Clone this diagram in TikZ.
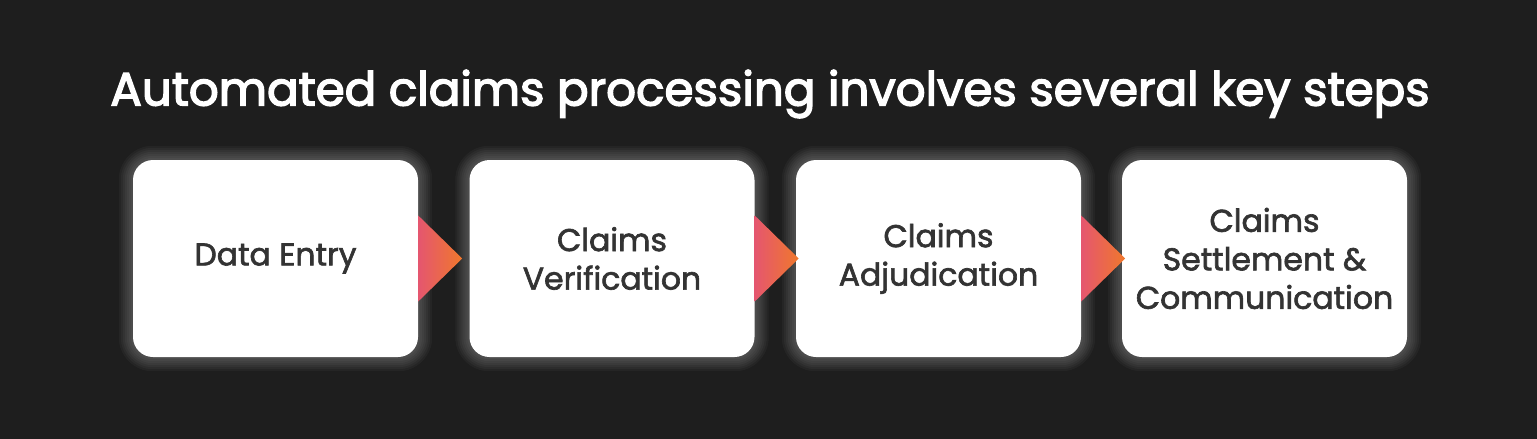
\documentclass[tikz,border=0pt]{standalone}
\usepackage{fontspec}
\setmainfont{Poppins}
\newfontfamily\titlefont{Poppins}[FakeBold=3]
\newfontfamily\boxfont{Poppins}[FakeBold=2]
\usetikzlibrary{calc}
\definecolor{bg}{HTML}{1E1E1E}
\definecolor{txt}{HTML}{333333}
\definecolor{gpink}{HTML}{E5566F}
\definecolor{gorange}{HTML}{F0782C}
\tikzset{
  stepbox/.style={fill=white, rounded corners=20pt, minimum width=285pt, minimum height=197pt,
    align=center, text=txt, font=\boxfont\fontsize{31.5}{38.5}\selectfont, inner sep=0pt},
}
\newcommand{\glowbox}[1]{%
  \foreach \g in {14,12,...,2}{
    \fill[white, opacity=0.035, rounded corners=20pt+\g pt]
      ($(#1.south west)+(-\g,\g)$) rectangle ($(#1.north east)+(\g,-\g)$);
  }%
}
\newcommand{\arrowtri}[1]{%
  \shade[left color=gpink, right color=gorange]
    ($(#1.east)+(0,-43)$) -- ($(#1.east)+(44,0)$) -- ($(#1.east)+(0,43)$) -- cycle;
}
\begin{document}
\begin{tikzpicture}[x=1pt,y=-1pt]
\fill[bg] (0,0) rectangle (1537,439);
\useasboundingbox (0,0) rectangle (1537,439);
\node[text=white, font=\titlefont\fontsize{46.8}{52}\selectfont] (title) at (770,94) {Automated claims processing involves several key steps};
\coordinate (c1) at (275.5,258.5);
\coordinate (c2) at (612,258.5);
\coordinate (c3) at (938.5,258.5);
\coordinate (c4) at (1264.5,258.5);
% invisible shapes for glow geometry
\foreach \i in {1,...,4}{
  \node[minimum width=285pt, minimum height=197pt, inner sep=0pt] (g\i) at (c\i) {};
}
\glowbox{g1}\glowbox{g2}\glowbox{g3}\glowbox{g4}
\node[stepbox] (b1) at (c1) {Data Entry};
\node[stepbox] (b2) at (c2) {Claims\\Verification};
\node[stepbox] (b3) at (c3) {Claims\\Adjudication};
\node[stepbox] (b4) at (c4) {Claims\\Settlement \&\\Communication};
\arrowtri{b1}\arrowtri{b2}\arrowtri{b3}
\end{tikzpicture}
\end{document}
